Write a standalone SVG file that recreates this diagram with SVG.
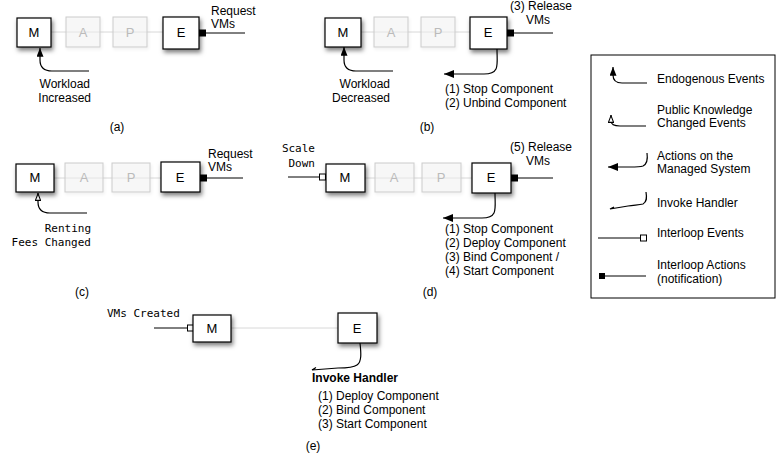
<svg xmlns="http://www.w3.org/2000/svg" width="780" height="458" viewBox="0 0 780 458">
<style>
text{font-family:"Liberation Sans",Arial,Helvetica,sans-serif;font-size:12px;fill:#000}
.mono{font-family:"DejaVu Sans Mono","Liberation Mono",monospace;font-size:11px}
.lbl{font-size:13px;text-anchor:middle}
.box{fill:#fff;stroke:#000;stroke-width:1.2}
.fbox{fill:#f4f4f4;fill-opacity:0.5;stroke:#ccc;stroke-width:1}
.ftxt{font-size:13px;text-anchor:middle;fill:#bbb}
.link{stroke:#d8d8d8;stroke-width:1;fill:none}
.wire{stroke:#000;stroke-width:1;fill:none}
.arr{stroke:#000;stroke-width:1.2;fill:none}
.bold{font-weight:bold}
.mid{text-anchor:middle}
.end{text-anchor:end}
</style>
<defs>
<filter id="sh" x="-30%" y="-30%" width="170%" height="180%">
<feDropShadow dx="1.5" dy="3" stdDeviation="2.2" flood-color="#000" flood-opacity="0.5"/>
</filter>
<filter id="shf" x="-30%" y="-30%" width="170%" height="180%">
<feDropShadow dx="1" dy="2" stdDeviation="1.5" flood-color="#000" flood-opacity="0.08"/>
</filter>
<marker id="fa" viewBox="0 0 10 8" refX="10" refY="4" markerWidth="9" markerHeight="7" markerUnits="userSpaceOnUse" orient="auto">
<path d="M0,0 L10,4 L0,8 z" fill="#000"/>
</marker>
<marker id="ha" viewBox="0 0 10 8" refX="10" refY="4" markerWidth="8" markerHeight="6.4" markerUnits="userSpaceOnUse" orient="auto">
<path d="M0.8,0.8 L9.2,4 L0.8,7.2 z" fill="#fff" stroke="#000" stroke-width="1.3"/>
</marker>
<marker id="la" viewBox="0 0 10 8" refX="10" refY="4" markerWidth="10" markerHeight="8" markerUnits="userSpaceOnUse" orient="auto">
<path d="M0,0 L10,4 L0,8 z" fill="#000"/>
</marker>
</defs>

<g id="connectors">
<!-- (a) -->
<line class="link" x1="51" y1="32" x2="163" y2="32"/>
<line class="wire" x1="206" y1="33" x2="245" y2="33"/>
<rect x="199" y="29.5" width="7" height="7" fill="#000"/>
<path class="arr" d="M89,71 H52 C43,71 40,67 40,60 V48" marker-end="url(#fa)"/>
<!-- (b) -->
<line class="link" x1="361" y1="32" x2="470" y2="32"/>
<line class="wire" x1="513" y1="33" x2="553" y2="33"/>
<rect x="507" y="29.5" width="7" height="7" fill="#000"/>
<path class="arr" d="M393,71 H356 C347,71 344,67 344,60 V47" marker-end="url(#fa)"/>
<path class="arr" d="M497,49 C497,58 498,65 496,69 C494,73 490,74 484,74 H444" marker-end="url(#la)"/>
<!-- (c) -->
<line class="link" x1="54" y1="178" x2="161" y2="178"/>
<line class="wire" x1="207" y1="178" x2="243" y2="178"/>
<rect x="200" y="174.5" width="7" height="7" fill="#000"/>
<path class="arr" d="M87,213 H50 C41,213 38,209 38,202 V193" marker-end="url(#ha)"/>
<!-- (d) -->
<line class="link" x1="365" y1="178" x2="472" y2="178"/>
<line class="wire" x1="288" y1="177" x2="319" y2="177"/>
<rect x="319.5" y="174" width="6" height="6" fill="#fff" stroke="#000" stroke-width="1"/>
<line class="wire" x1="517" y1="178" x2="553" y2="178"/>
<rect x="511" y="174.5" width="7" height="7" fill="#000"/>
<path class="arr" d="M495,193 C495,202 496,209 494,213 C492,217 488,218 482,218 H443" marker-end="url(#la)"/>
<!-- (e) -->
<line class="link" x1="231" y1="328" x2="338" y2="328"/>
<line class="wire" x1="154" y1="328" x2="187" y2="328"/>
<rect x="187.5" y="325" width="6" height="6" fill="#fff" stroke="#000" stroke-width="1"/>
<path class="arr" d="M360,343 C361,352 362,362 357,365 C353,368 346,368 338,368 L312,370 L316,367.5"/>
</g>

<!-- (a) nodes -->
<g id="a-M"><rect class="box" x="17" y="18" width="34" height="29" filter="url(#sh)"/><text class="lbl" x="34" y="37">M</text></g>
<g id="a-A"><rect class="fbox" x="66" y="17" width="34" height="30" filter="url(#shf)"/><text class="ftxt" x="83" y="37">A</text></g>
<g id="a-P"><rect class="fbox" x="113" y="17" width="34" height="30" filter="url(#shf)"/><text class="ftxt" x="130" y="37">P</text></g>
<g id="a-E"><rect class="box" x="163" y="17" width="36" height="32" filter="url(#sh)"/><text class="lbl" x="181" y="37">E</text></g>
<g id="a-text">
<text x="211" y="15">Request</text><text x="211" y="28">VMs</text>
<text class="end" x="90" y="88">Workload</text><text class="end" x="91" y="102">Increased</text>
<text class="mid" x="117" y="131">(a)</text>
</g>

<!-- (b) nodes -->
<g id="b-M"><rect class="box" x="325" y="18" width="36" height="29" filter="url(#sh)"/><text class="lbl" x="343" y="37">M</text></g>
<g id="b-A"><rect class="fbox" x="374" y="17" width="34" height="30" filter="url(#shf)"/><text class="ftxt" x="391" y="37">A</text></g>
<g id="b-P"><rect class="fbox" x="421" y="17" width="34" height="30" filter="url(#shf)"/><text class="ftxt" x="438" y="37">P</text></g>
<g id="b-E"><rect class="box" x="470" y="17" width="37" height="32" filter="url(#sh)"/><text class="lbl" x="488" y="37">E</text></g>
<g id="b-text">
<text x="510" y="10">(3) Release</text><text x="526" y="24">VMs</text>
<text class="end" x="390" y="88">Workload</text><text class="end" x="390" y="102">Decreased</text>
<text x="445" y="93">(1) Stop Component</text><text x="445" y="107">(2) Unbind Component</text>
<text class="mid" x="427" y="131">(b)</text>
</g>

<!-- (c) nodes -->
<g id="c-M"><rect class="box" x="16" y="164" width="38" height="28" filter="url(#sh)"/><text class="lbl" x="35" y="182">M</text></g>
<g id="c-A"><rect class="fbox" x="65" y="163" width="38" height="29" filter="url(#shf)"/><text class="ftxt" x="84" y="182">A</text></g>
<g id="c-P"><rect class="fbox" x="112" y="163" width="38" height="29" filter="url(#shf)"/><text class="ftxt" x="131" y="182">P</text></g>
<g id="c-E"><rect class="box" x="161" y="162" width="39" height="30" filter="url(#sh)"/><text class="lbl" x="180" y="182">E</text></g>
<g id="c-text">
<text x="208" y="158">Request</text><text x="208" y="171">VMs</text>
<text class="mono end" x="91" y="232">Renting</text><text class="mono end" x="91" y="246">Fees Changed</text>
<text class="mid" x="82" y="296">(c)</text>
</g>

<!-- (d) nodes -->
<g id="d-M"><rect class="box" x="326" y="164" width="39" height="28" filter="url(#sh)"/><text class="lbl" x="345" y="182">M</text></g>
<g id="d-A"><rect class="fbox" x="375" y="163" width="39" height="29" filter="url(#shf)"/><text class="ftxt" x="394" y="182">A</text></g>
<g id="d-P"><rect class="fbox" x="422" y="163" width="39" height="29" filter="url(#shf)"/><text class="ftxt" x="441" y="182">P</text></g>
<g id="d-E"><rect class="box" x="472" y="163" width="39" height="30" filter="url(#sh)"/><text class="lbl" x="491" y="182">E</text></g>
<g id="d-text">
<text class="mono end" x="315" y="152">Scale</text><text class="mono end" x="315" y="167">Down</text>
<text x="510" y="151">(5) Release</text><text x="526" y="165">VMs</text>
<text x="445" y="233">(1) Stop Component</text>
<text x="445" y="247">(2) Deploy Component</text>
<text x="445" y="261">(3) Bind Component /</text>
<text x="445" y="275">(4) Start Component</text>
<text class="mid" x="430" y="296">(d)</text>
</g>

<!-- (e) nodes -->
<g id="e-M"><rect class="box" x="193" y="315" width="38" height="27" filter="url(#sh)"/><text class="lbl" x="212" y="333">M</text></g>
<g id="e-E"><rect class="box" x="338" y="313" width="39" height="30" filter="url(#sh)"/><text class="lbl" x="357" y="333">E</text></g>
<g id="e-text">
<text class="mono" x="107" y="317">VMs Created</text>
<text class="bold" x="312" y="382">Invoke Handler</text>
<text x="318" y="400">(1) Deploy Component</text>
<text x="318" y="414">(2) Bind Component</text>
<text x="318" y="428">(3) Start Component</text>
<text class="mid" x="313" y="450">(e)</text>
</g>

<!-- legend -->
<g id="legend">
<rect x="591" y="55" width="184" height="243" fill="#fff" stroke="#000" stroke-width="1"/>
<path class="arr" d="M647,83 H622 C615,83 613,80 613,75 V67" marker-end="url(#fa)"/>
<text x="657" y="83">Endogenous Events</text>
<path class="arr" d="M646,126 H620 C613,126 611,124 611,121 V115" marker-end="url(#ha)"/>
<text x="657" y="114">Public Knowledge</text><text x="657" y="127">Changed Events</text>
<path class="arr" d="M647,153 C648,160 647,164 643,166 C640,167 636,167 630,167 H608" marker-end="url(#la)"/>
<text x="657" y="160">Actions on the</text><text x="657" y="173">Managed System</text>
<path class="arr" d="M646,192 C647,198 647,202 643,204 C639,205 634,205 628,206 L610,209 L614,207"/>
<text x="657" y="207">Invoke Handler</text>
<line class="wire" x1="598" y1="238" x2="640" y2="238"/>
<rect x="640.5" y="235" width="6" height="6" fill="#fff" stroke="#000" stroke-width="1"/>
<text x="657" y="237">Interloop Events</text>
<rect x="599" y="273" width="6" height="6" fill="#000"/>
<line class="wire" x1="605" y1="276" x2="646" y2="276"/>
<text x="657" y="269">Interloop Actions</text><text x="657" y="283">(notification)</text>
</g>
</svg>
